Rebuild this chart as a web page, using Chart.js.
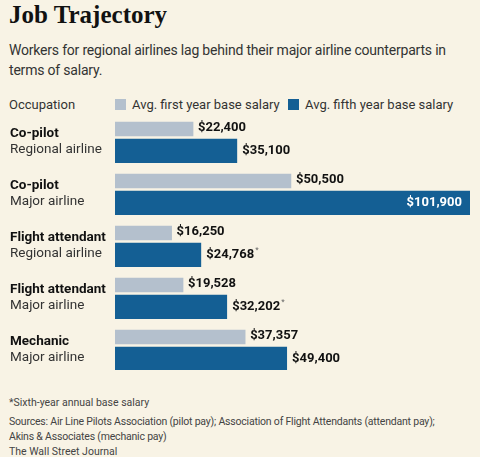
<!DOCTYPE html>
<html><head><meta charset="utf-8">
<script src="https://cdn.jsdelivr.net/npm/chart.js@4"></script>
<style>
body{margin:0;width:480px;height:457px;background:#f8f3e5;position:relative;overflow:hidden;font-family:"Roboto",sans-serif;color:#222}
canvas{position:absolute;left:0;top:0}
.t{position:absolute;left:9px;white-space:nowrap}
</style></head><body>
<div class="t" style="top:1px;font:bold 25px 'Liberation Serif',serif;color:#111">Job Trajectory</div>
<div class="t" style="top:40px;font-size:14px;line-height:20px;color:#333;letter-spacing:-0.2px">Workers for regional airlines lag behind their major airline counterparts in<br>terms of salary.</div>
<div class="t" style="top:97px;font-size:13px;color:#333">Occupation</div>
<div class="t" style="top:97px;left:115px;font-size:13px;color:#333"><span style="display:inline-block;width:11px;height:11px;background:#b4c0cd;margin-right:6px;vertical-align:-1px"></span>Avg. first year base salary</div>
<div class="t" style="top:97px;left:288px;font-size:13px;color:#333"><span style="display:inline-block;width:11px;height:11px;background:#145f94;margin-right:6px;vertical-align:-1px"></span>Avg. fifth year base salary</div>
<div class="t" style="top:396px;font-size:10.5px;color:#444">*Sixth-year annual base salary</div>
<div class="t" style="top:414px;font-size:10.5px;line-height:15px;color:#444;letter-spacing:-0.2px">Sources: Air Line Pilots Association (pilot pay); Association of Flight Attendants (attendant pay);<br>Akins &amp; Associates (mechanic pay)</div>
<div class="t" style="top:445px;font-size:10.5px;color:#444">The Wall Street Journal</div>
<canvas id="c" width="480" height="457"></canvas>
<script>
const occupations=["Co-pilot","Co-pilot","Flight attendant","Flight attendant","Mechanic"];
const employers=["Regional airline","Major airline","Regional airline","Major airline","Major airline"];
const firstYear=[22400,50500,16250,19528,37357];
const fifthYear=[35100,101900,24768,32202,49400];
const fifthNote=["","","*","*",""];
const fmt=v=>"$"+v.toLocaleString("en-US");
const B="bold 13px Roboto,sans-serif";
const labelsPlugin={id:"lbl",afterDatasetsDraw(ch){
 const c=ch.ctx;c.save();
 const ys=ch.scales.y;
 occupations.forEach((o,i)=>{
  const y=ys.getPixelForValue(i);
  c.textAlign="left";c.textBaseline="alphabetic";c.fillStyle="#111";
  c.font="bold 13.5px Roboto,sans-serif";c.fillText(o,10,y+1);
  c.fillStyle="#333";c.font="13.5px Roboto,sans-serif";c.fillText(employers[i],10,y+17);
 });
 c.font=B;c.textBaseline="middle";
 ch.getDatasetMeta(0).data.forEach((b,i)=>{c.fillStyle="#111";c.textAlign="left";c.fillText(fmt(firstYear[i]),b.x+5,b.y-1);});
 ch.getDatasetMeta(1).data.forEach((b,i)=>{
  const yy=b.y+1.5;
  if(fifthYear[i]>90000){c.fillStyle="#fff";c.textAlign="right";c.fillText(fmt(fifthYear[i]),b.x-8,yy);}
  else{c.fillStyle="#111";c.textAlign="left";const s=fmt(fifthYear[i]);c.fillText(s,b.x+5,yy);
   if(fifthNote[i]){const w=c.measureText(s).width;c.font="9px sans-serif";c.fillStyle="#666";c.fillText(fifthNote[i],b.x+6+w,yy-4);c.font=B;}}
 });
 c.restore();}};
new Chart(document.getElementById("c"),{type:"bar",
 data:{labels:occupations.map((o,i)=>o+" "+employers[i]),datasets:[
  {data:firstYear,backgroundColor:"#b4c0cd",barThickness:14,borderWidth:0},
  {data:fifthYear,backgroundColor:"#145f94",barThickness:27,borderWidth:{top:3,left:0,right:0,bottom:0},borderColor:"#f8f3e5",borderSkipped:false}]},
 options:{indexAxis:"y",responsive:false,animation:false,devicePixelRatio:1,
  layout:{padding:{left:115,right:10,top:110,bottom:87}},
  plugins:{legend:{display:false},tooltip:{enabled:false}},
  scales:{x:{display:false,min:0,max:101900},y:{display:false,offset:true}}},
 plugins:[labelsPlugin]});
</script></body></html>
